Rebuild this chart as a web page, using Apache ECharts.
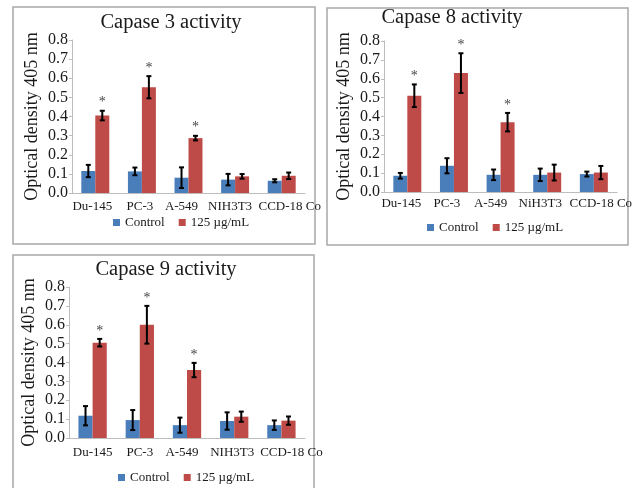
<!DOCTYPE html>
<html><head><meta charset="utf-8">
<script src="https://cdn.jsdelivr.net/npm/echarts@6/dist/echarts.min.js"></script>
<style>html,body{margin:0;padding:0;background:#fff}#c{width:635px;height:488px}</style>
</head><body><div id="c"></div>
<script>
// ---- data ----
const categoriesA = ['Du-145', 'PC-3', 'A-549', 'NIH3T3', 'CCD-18 Co'];
const categoriesB = ['Du-145', 'PC-3', 'A-549', 'NiH3T3', 'CCD-18 Co'];
const panelTitles = ['Capase 3 activity', 'Capase 8 activity', 'Capase 9 activity'];
const seriesNames = ['Control', '125 µg/mL'];
const yTickValues = [0, 0.1, 0.2, 0.3, 0.4, 0.5, 0.6, 0.7, 0.8];

const casp3Control = [0.115, 0.113, 0.08, 0.07, 0.064];
const casp3ControlErr = [0.032, 0.02, 0.054, 0.03, 0.008];
const casp3Treated = [0.405, 0.553, 0.287, 0.087, 0.09];
const casp3TreatedErr = [0.025, 0.058, 0.012, 0.012, 0.017];

const casp8Control = [0.086, 0.139, 0.091, 0.091, 0.095];
const casp8ControlErr = [0.015, 0.04, 0.028, 0.033, 0.013];
const casp8Treated = [0.51, 0.63, 0.37, 0.103, 0.103];
const casp8TreatedErr = [0.06, 0.105, 0.049, 0.042, 0.035];

const casp9Control = [0.118, 0.095, 0.068, 0.09, 0.068];
const casp9ControlErr = [0.051, 0.053, 0.04, 0.046, 0.025];
const casp9Treated = [0.505, 0.6, 0.36, 0.113, 0.092];
const casp9TreatedErr = [0.02, 0.1, 0.038, 0.027, 0.022];

const significantMarks = [1, 1, 1, 0, 0];

// ---- styling / layout ----
const FONT = '"Liberation Serif", "Times New Roman", serif';
const TXT = '#1a1a1a';
const BLUE = '#4a7ebb';
const RED = '#be4b48';
const AXIS_COLOR = '#bdbdbd';

const panels = [
  { title: panelTitles[0], cats: categoriesA, ctrl: casp3Control, ctrlErr: casp3ControlErr, trt: casp3Treated, trtErr: casp3TreatedErr,
    grid: { left: 72, top: 40, width: 233, height: 153 }, titlePos: [171, 23], legendPos: [113, 216], box: [13, 7, 302, 237],
    labelShift: [-3, -2, -7, -5, 8], labelMargin: 7 },
  { title: panelTitles[1], cats: categoriesB, ctrl: casp8Control, ctrlErr: casp8ControlErr, trt: casp8Treated, trtErr: casp8TreatedErr,
    grid: { left: 384, top: 41, width: 234, height: 151 }, titlePos: [452, 18], legendPos: [427, 221], box: [327, 8, 301, 237],
    labelShift: [-6, -7, -10, -7, 7], labelMargin: 5 },
  { title: panelTitles[2], cats: categoriesA, ctrl: casp9Control, ctrlErr: casp9ControlErr, trt: casp9Treated, trtErr: casp9TreatedErr,
    grid: { left: 69, top: 287, width: 236, height: 151 }, titlePos: [166, 270], legendPos: [118, 471], box: [13, 255, 301, 245],
    labelShift: [0, 0, -5, -2, 10], labelMargin: 8 }
];

function errRender(side) {
  return function (params, api) {
    const i = api.value(0), v = api.value(1), e = api.value(2), star = api.value(3);
    const band = api.size([1, 0])[0];
    const top = api.coord([i, v + e]);
    const bot = api.coord([i, v - e]);
    const x = top[0] + side * band * 0.15;
    const cw = 2.5;
    const style = { stroke: '#000', lineWidth: 2 };
    const children = [
      { type: 'line', shape: { x1: x, y1: top[1], x2: x, y2: bot[1] }, style },
      { type: 'line', shape: { x1: x - cw, y1: top[1], x2: x + cw, y2: top[1] }, style },
      { type: 'line', shape: { x1: x - cw, y1: bot[1], x2: x + cw, y2: bot[1] }, style }
    ];
    if (star) {
      children.push({ type: 'text', style: { text: '*', x: x, y: top[1] - 8, align: 'center', verticalAlign: 'middle',
        fontSize: 14, fontFamily: FONT, fill: '#444' } });
    }
    return { type: 'group', children };
  };
}

const option = { animation: false, grid: [], xAxis: [], yAxis: [], series: [], legend: [], graphic: [] };

panels.forEach((p, k) => {
  const rich = {};
  p.labelShift.forEach((s, i) => {
    rich['s' + i] = { fontFamily: FONT, fontSize: 13, color: TXT,
      padding: [0, Math.max(0, -2 * s), 0, Math.max(0, 2 * s)] };
  });
  option.grid.push(Object.assign({ containLabel: false }, p.grid));
  option.xAxis.push({
    type: 'category', gridIndex: k, data: p.cats,
    axisLine: { lineStyle: { color: AXIS_COLOR, width: 1 } },
    axisTick: { show: false },
    axisLabel: { interval: 0, margin: p.labelMargin, fontFamily: FONT, fontSize: 13, color: TXT, rich,
      formatter: (val, idx) => '{s' + idx + '|' + val + '}' }
  });
  option.yAxis.push({
    type: 'value', gridIndex: k, min: yTickValues[0], max: yTickValues[yTickValues.length - 1], interval: 0.1,
    name: 'Optical density 405 nm', nameLocation: 'middle', nameRotate: 90, nameGap: 31,
    nameTextStyle: { fontFamily: FONT, fontSize: 18, color: TXT },
    axisLine: { show: true, lineStyle: { color: AXIS_COLOR, width: 1 } },
    axisTick: { show: true, length: 3, lineStyle: { color: AXIS_COLOR } },
    splitLine: { show: false },
    axisLabel: { margin: 4, fontFamily: FONT, fontSize: 16, color: TXT, formatter: v => v.toFixed(1) }
  });
  option.series.push({
    type: 'bar', name: seriesNames[0], xAxisIndex: k, yAxisIndex: k, data: p.ctrl,
    barWidth: '30%', barGap: '0%', itemStyle: { color: BLUE }
  });
  option.series.push({
    type: 'bar', name: seriesNames[1], xAxisIndex: k, yAxisIndex: k, data: p.trt,
    barWidth: '30%', barGap: '0%', itemStyle: { color: RED }
  });
  option.series.push({
    type: 'custom', name: 'errCtrl' + k, xAxisIndex: k, yAxisIndex: k, z: 5,
    encode: { x: 0, y: 1 }, renderItem: errRender(-1),
    data: p.ctrl.map((v, i) => [i, v, p.ctrlErr[i], 0])
  });
  option.series.push({
    type: 'custom', name: 'errTrt' + k, xAxisIndex: k, yAxisIndex: k, z: 5,
    encode: { x: 0, y: 1 }, renderItem: errRender(1),
    data: p.trt.map((v, i) => [i, v, p.trtErr[i], significantMarks[i]])
  });
  option.legend.push({
    data: seriesNames, left: p.legendPos[0], top: p.legendPos[1], padding: 0,
    icon: 'rect', itemWidth: 7, itemHeight: 7, itemGap: 14, selectedMode: false,
    textStyle: { fontFamily: FONT, fontSize: 13, color: TXT }
  });
  option.graphic.push({
    type: 'rect', silent: true, z: -1,
    shape: { x: p.box[0], y: p.box[1], width: p.box[2], height: p.box[3] },
    style: { fill: 'none', stroke: '#a8a8a8', lineWidth: 1.5 }
  });
  option.graphic.push({
    type: 'text', silent: true, x: p.titlePos[0], y: p.titlePos[1],
    style: { text: p.title, align: 'center', verticalAlign: 'middle', fontFamily: FONT, fontSize: 20.5, fill: TXT }
  });
});

const chart = echarts.init(document.getElementById('c'), null, { renderer: 'canvas' });
chart.setOption(option);
</script>
</body></html>
